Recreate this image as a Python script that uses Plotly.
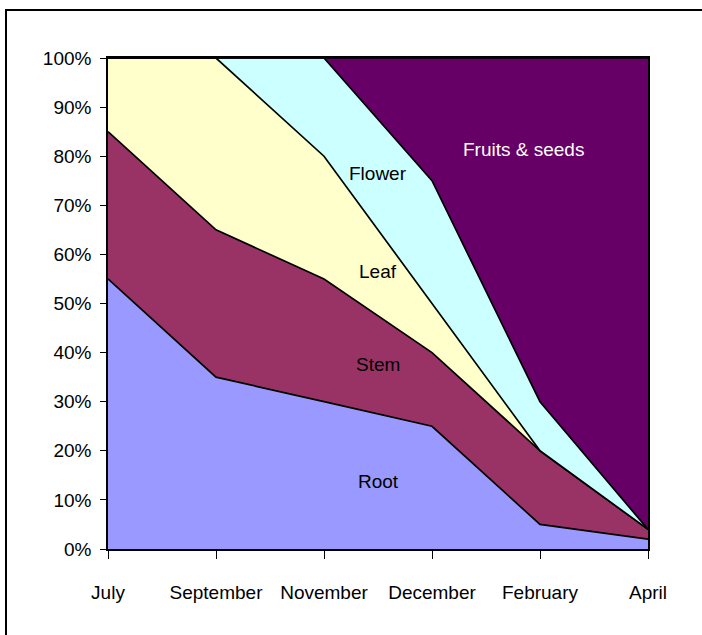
import plotly.graph_objects as go

months = ["July", "September", "November", "December", "February", "April"]
root = [55, 35, 30, 25, 5, 2]
stem = [30, 30, 25, 15, 15, 2]
leaf = [15, 35, 25, 10, 0, 0]
flower = [0, 0, 20, 25, 10, 0]
fruits = [0, 0, 0, 25, 70, 96]
y_ticks = list(range(0, 101, 10))
y_tick_text = [f"{v}%" for v in y_ticks]

series = [
    ("Root", root, "#9999FF"),
    ("Stem", stem, "#993366"),
    ("Leaf", leaf, "#FFFFCC"),
    ("Flower", flower, "#CCFFFF"),
    ("Fruits & seeds", fruits, "#660066"),
]

FONT = "Liberation Sans, Arial, sans-serif"
FS = 19

fig = go.Figure()
for name, vals, col in series:
    fig.add_trace(go.Scatter(
        x=months, y=vals, name=name, stackgroup="one", mode="lines",
        line=dict(color="black", width=1.7), fillcolor=col,
        hoverinfo="x+y+name",
    ))

W, H = 702, 635
L, R, T, B = 108, 54, 58, 86

labels = [
    (2.5, 76.5, "Flower", "black"),
    (2.5, 56.5, "Leaf", "black"),
    (2.5, 37.5, "Stem", "black"),
    (2.5, 13.8, "Root", "black"),
    (3.85, 81.3, "Fruits & seeds", "white"),
]
for x, y, t, c in labels:
    fig.add_annotation(x=x, y=y, xref="x", yref="y", text=t, showarrow=False,
                       font=dict(family=FONT, size=FS, color=c))

fig.update_layout(
    width=W, height=H,
    margin=dict(l=L, r=R, t=T, b=B, pad=0, autoexpand=False),
    paper_bgcolor="white", plot_bgcolor="white",
    showlegend=False,
    font=dict(family=FONT, size=FS, color="black"),
    xaxis=dict(type="category", range=[0, 5], showgrid=False, zeroline=False,
               showline=True, linecolor="black", linewidth=1.5, mirror=True,
               ticks="outside", ticklen=8, tickcolor="black", tickwidth=1,
               tickangle=0, automargin=False, ticklabelstandoff=17),
    yaxis=dict(range=[0, 100], showgrid=False, zeroline=False,
               showline=True, linecolor="black", linewidth=1.5, mirror=True,
               ticks="outside", ticklen=6, tickcolor="black", tickwidth=1,
               tickmode="array", tickvals=y_ticks, ticktext=y_tick_text,
               automargin=False, ticklabelstandoff=5),
)

# outer chart frame drawn as a page border (top and left edges visible)
frame_css = (
    "var d=document.createElement('div');"
    "d.style.cssText='position:fixed;left:5px;top:9px;width:800px;height:800px;"
    "border:2px solid black;pointer-events:none;';"
    "document.body.appendChild(d);"
)

fig.write_html(
    "out.html",
    config={"displayModeBar": False},
    post_script="document.body.style.margin='0';document.body.style.overflow='hidden';" + frame_css,
)
